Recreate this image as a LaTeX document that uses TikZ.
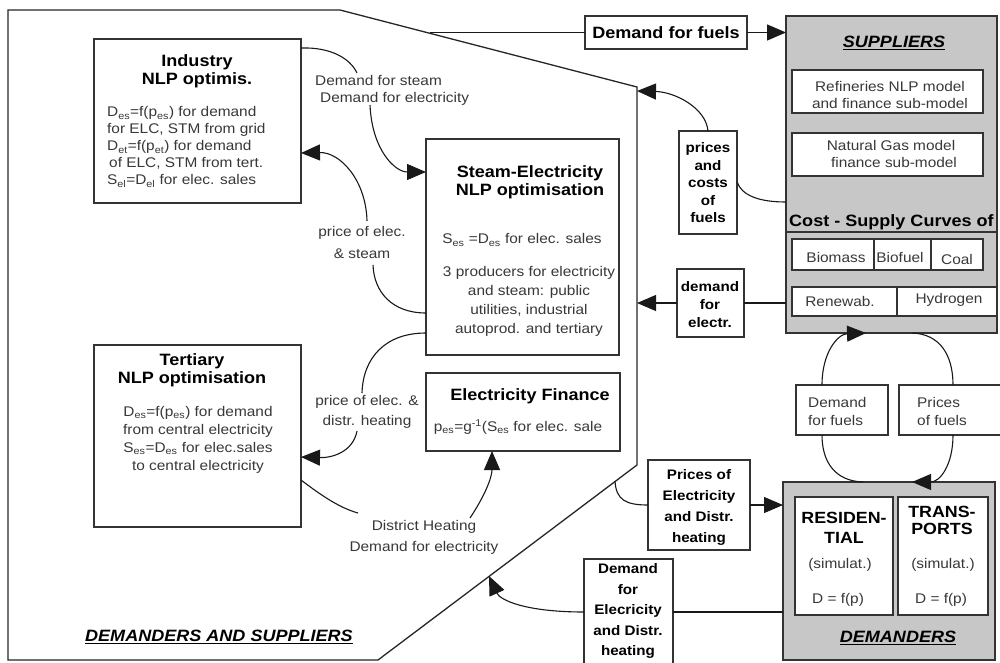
\documentclass[tikz,border=0pt]{standalone}
\usepackage{fontspec}
\setmainfont{Liberation Sans}[FakeStretch=1.1]
\usetikzlibrary{arrows.meta}
\newcommand\fr{\fontsize{14}{17}\selectfont}
\newcommand\fb{\fontsize{16.4}{18}\selectfont\bfseries}
\newcommand\fl{\fontsize{13.8}{17.5}\selectfont\bfseries}
\begin{document}
\begin{tikzpicture}[x=1pt,y=-1pt,
 box/.style={rectangle,draw=black!80,fill=white,line width=1.6pt,inner sep=0pt,outer sep=0pt,anchor=north west},
 gbox/.style={box,fill=black!22},
 conn/.style={line width=1.1pt,draw=black!90},
 arr/.style={conn,-{Triangle[length=19pt,width=16pt]}},
 tr/.style={inner sep=0pt,align=center,font=\fr,text=black!78},
 tb/.style={inner sep=0pt,align=center,font=\fb},
 tl/.style={inner sep=0pt,align=center,font=\fl},
]
\useasboundingbox (0,0) rectangle (1000,663);
\fill[white] (0,0) rectangle (1000,663);

% outer region
\draw[line width=1.3pt,draw=black!85] (8,10) -- (340,10) -- (637,87) -- (637,465) -- (378,660) -- (8,660) -- cycle;
\coordinate (pA) at (430,32.5);
\coordinate (pB) at (637,91);
\coordinate (pC) at (637,303);
\coordinate (pD) at (615,481);
\coordinate (pE) at (489,576);

% boxes
\node[box,minimum width=207pt,minimum height=164pt] (ind) at (94,39) {};
\node[box,minimum width=207pt,minimum height=182pt] (ter) at (94,345) {};
\node[box,minimum width=193pt,minimum height=216pt] (stm) at (426,139) {};
\node[box,minimum width=194pt,minimum height=78pt] (fin) at (426,373) {};
\node[box,minimum width=162pt,minimum height=33pt] (dff) at (585,16) {};
\node[gbox,minimum width=211pt,minimum height=317pt] (sup) at (786,16) {};
\node[box,minimum width=191pt,minimum height=43pt] (ref) at (792,70) {};
\node[box,minimum width=191pt,minimum height=43pt] (gas) at (792,133) {};
\coordinate (cl) at (786,232);
\draw[line width=1.5pt,draw=black!80] (cl) -- (cl -| sup.east);
\node[box,minimum width=82pt,minimum height=31pt] (bio) at (792,239) {};
\node[box,minimum width=57pt,minimum height=31pt] (bfu) at (874,239) {};
\node[box,minimum width=52pt,minimum height=31pt] (coal) at (931,239) {};
\node[box,minimum width=105pt,minimum height=29pt] (ren) at (792,287) {};
\node[box,minimum width=100pt,minimum height=29pt] (hyd) at (897,287) {};
\node[box,minimum width=58pt,minimum height=103pt] (pcf) at (679,131) {};
\node[box,minimum width=67pt,minimum height=68pt] (dfe) at (677,269) {};
\node[gbox,minimum width=212pt,minimum height=178pt] (dem) at (783,482) {};
\node[box,minimum width=98pt,minimum height=118pt] (res) at (795,497) {};
\node[box,minimum width=90pt,minimum height=118pt] (tra) at (898,497) {};
\node[box,minimum width=92pt,minimum height=50pt] (dfu) at (796,385) {};
\node[box,minimum width=102pt,minimum height=50pt] (pof) at (899,385) {};
\node[box,minimum width=102pt,minimum height=90pt] (ped) at (648,460) {};
\node[box,minimum width=89pt,minimum height=112pt] (ded) at (584,559) {};

% label anchor points
\coordinate (l1a) at (357,73);
\coordinate (l1b) at (370,105);
\coordinate (l2a) at (367,221);
\coordinate (l2b) at (373,265);
\coordinate (l3a) at (362,393);
\coordinate (l3b) at (357,431);
\coordinate (l4a) at (358,513);
\coordinate (l4b) at (470,518);

% connectors, right side
\draw[conn] (pA) -- (dff.west);
\draw[arr] (dff.east) -- (sup.west |- dff.east);
\draw[conn] ([yshift=-186pt]sup.north west) .. controls (760,202) and (742,196) .. ([yshift=-51pt]pcf.north east);
\draw[arr] (pcf.north) .. controls (706,108) and (675,92) .. (pB);
\draw[conn] ([yshift=-287pt]sup.north west) -- (dfe.east);
\draw[arr] (dfe.west) -- (pC);
\draw[conn] ([xshift=80pt]dem.north west) .. controls (835,481) and (822,462) .. ([xshift=26pt]dfu.south west);
\draw[arr] ([xshift=26pt]dfu.north west) .. controls (822,352) and (838,334) .. ([xshift=80pt]sup.south west);
\draw[conn] ([xshift=126pt]sup.south west) .. controls (940,334) and (953,355) .. ([xshift=54pt]pof.north west);
\draw[arr] ([xshift=54pt]pof.south west) .. controls (953,465) and (940,482) .. ([xshift=129pt]dem.north west);
\draw[conn] (pD) .. controls (616,500) and (626,505) .. (ped.west);
\draw[arr] (ped.east) -- (dem.west |- ped.east);
\draw[conn] ([yshift=-130pt]dem.north west) -- ([yshift=-53pt]ded.north east);
\draw[arr] ([yshift=-53pt]ded.north west) .. controls (525,612) and (500,600) .. (pE);

% connectors, left side
\draw[conn] ([yshift=-9pt]ind.north east) .. controls (330,47) and (350,58) .. (l1a);
\draw[arr] (l1b) .. controls (372,150) and (395,172) .. ([yshift=-33pt]stm.north west);
\draw[conn] ([yshift=-174pt]stm.north west) .. controls (392,313) and (374,292) .. (l2b);
\draw[arr] (l2a) .. controls (366,180) and (340,152) .. ([yshift=-114pt]ind.north east);
\draw[conn] ([yshift=-194pt]stm.north west) .. controls (385,333) and (363,358) .. (l3a);
\draw[arr] (l3b) .. controls (353,452) and (332,458) .. ([yshift=-112pt]ter.north east);
\draw[conn] ([yshift=-135pt]ter.north east) .. controls (322,496) and (340,508) .. (l4a);
\draw[arr] (l4b) .. controls (484,497) and (492,478) .. ([xshift=66pt]fin.south west);

% texts
\node[tb] (tind) at (197,71) {Industry\\NLP optimis.};
\node[tr,align=left,anchor=west] (bind) at (107,147) {D\textsubscript{es}=f(p\textsubscript{es}) for demand\\for ELC, STM from grid\\D\textsubscript{et}=f(p\textsubscript{et}) for demand\\\hspace{2pt}of ELC, STM from tert.\\S\textsubscript{el}=D\textsubscript{el} for elec. sales};
\node[tb] (tter) at (192,370.5) {Tertiary\\NLP optimisation};
\node[tr,font=\fontsize{14}{18}\selectfont] (bter) at (198,440) {D\textsubscript{es}=f(p\textsubscript{es}) for demand\\from central electricity\\S\textsubscript{es}=D\textsubscript{es} for elec.sales\\to central electricity};
\node[tb] (tstm) at (530,182) {Steam-Electricity\\NLP optimisation};
\node[tr] (s1) at (522,240) {S\textsubscript{es} =D\textsubscript{es} for elec. sales};
\node[tr,font=\fontsize{14}{19}\selectfont] (s2) at (529,301.5) {3 producers for electricity\\and steam: public\\utilities, industrial\\autoprod. and tertiary};
\node[tb] (tfin) at (530,396) {Electricity Finance};
\node[tr] (bfin) at (518,427) {p\textsubscript{es}=g\textsuperscript{-1}(S\textsubscript{es} for elec. sale};
\node[tb] (tdff) at (666,33) {Demand for fuels};
\node[tb] (tsup) at (894,43) {\underline{\textit{SUPPLIERS}}};
\node[tr] (tref) at (890,94.5) {Refineries NLP model\\and finance sub-model};
\node[tr] (tgas) at (891,153.5) {Natural Gas model\\\hspace{6pt}finance sub-model};
\node[tb,anchor=west] (tcost) at (789,222) {Cost - Supply Curves of};
\node[tr] (tbio) at (836,257) {Biomass};
\node[tr] (tbfu) at (900,257) {Biofuel};
\node[tr] (tcoal) at (957,259) {Coal};
\node[tr] (tren) at (840,301) {Renewab.};
\node[tr] (thyd) at (949,300) {Hydrogen};
\node[tl] (tpcf) at (708,183) {prices\\and\\costs\\of\\fuels};
\node[tl,font=\fontsize{13.8}{18}\selectfont\bfseries] (tdfe) at (710,305) {demand\\for\\electr.};
\node[tr,align=left,anchor=west,font=\fontsize{14}{18}\selectfont] (tdfu) at (808,411) {Demand\\for fuels};
\node[tr,align=left,anchor=west,font=\fontsize{14}{18}\selectfont] (tpof) at (917,411) {Prices\\of fuels};
\node[tl,font=\fontsize{13.8}{21}\selectfont\bfseries] (tped) at (699,507) {Prices of\\Electricity\\and Distr.\\heating};
\node[tl,font=\fontsize{13.8}{20.5}\selectfont\bfseries] (tded) at (628,611) {Demand\\for\\Elecricity\\and Distr.\\heating};
\node[tb,font=\fontsize{16.2}{20}\selectfont\bfseries] (tres) at (844,528) {RESIDEN-\\TIAL};
\node[tb,font=\fontsize{16.2}{17}\selectfont\bfseries] (ttra) at (942,520.5) {TRANS-\\PORTS};
\node[tr] (sres) at (840,565) {(simulat.)};
\node[tr] (stra) at (943,565) {(simulat.)};
\node[tr] (dres) at (838,600) {D = f(p)};
\node[tr] (dtra) at (941,600) {D = f(p)};
\node[tb] (tdem) at (898,638) {\underline{\textit{DEMANDERS}}};
\node[tb] (tds) at (219,637) {\underline{\textit{DEMANDERS AND SUPPLIERS}}};
\node[tr,align=left,anchor=west] (lab1) at (315,90.5) {Demand for steam\\\hspace{5pt}Demand for electricity};
\node[tr,font=\fontsize{14}{22}\selectfont] (lab2) at (362,242) {price of elec.\\\& steam};
\node[tr,font=\fontsize{14}{20}\selectfont] (lab3) at (367,412) {price of elec. \&\\distr. heating};
\node[tr,font=\fontsize{14}{21}\selectfont] (lab4) at (424,537.5) {District Heating\\Demand for electricity};
\end{tikzpicture}
\end{document}
